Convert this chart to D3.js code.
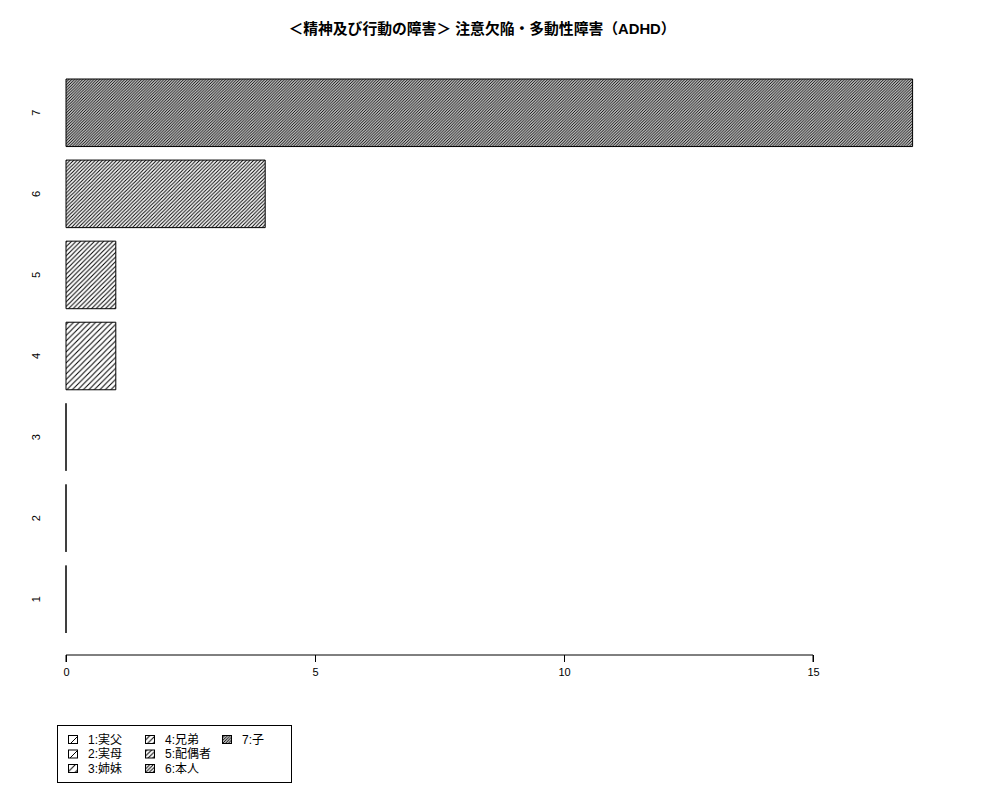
<!DOCTYPE html>
<html><head><meta charset="utf-8">
<script src="https://cdn.jsdelivr.net/npm/d3@7"></script>
<style>body{margin:0;background:#fff;} svg{display:block;}</style>
</head><body>
<script>
const categories = ["1","2","3","4","5","6","7"];
const values = [0,0,0,1,1,4,17];
const legendLabels = ["1:実父","2:実母","3:姉妹","4:兄弟","5:配偶者","6:本人","7:子"];
const xTicks = [0,5,10,15];
const hatchSpacing = [11,9,7.5,5.5,4.6,3.6,2.8];
const title = "＜精神及び行動の障害＞ 注意欠陥・多動性障害（ADHD）";

const W=1000,H=800;
const svg=d3.select("body").append("svg").attr("width",W).attr("height",H);
const font="'Liberation Sans','Noto Sans CJK JP',sans-serif";
const defs=svg.append("defs");
hatchSpacing.forEach((d,i)=>{
  const p=defs.append("pattern").attr("id","h"+i).attr("patternUnits","userSpaceOnUse")
    .attr("width",d).attr("height",d);
  p.append("path").attr("d",`M0,${d}L${d},0M-1,1L1,-1M${d-1},${d+1}L${d+1},${d-1}`)
    .attr("stroke","#000").attr("stroke-width",1).attr("fill","none");
});

const x=d3.scaleLinear().domain([0,15]).range([66,813]);
const y=d3.scaleBand().domain(categories.slice().reverse()).range([79,633]).paddingInner(1/6).paddingOuter(0);

svg.append("text").attr("x",482).attr("y",34).attr("text-anchor","middle")
  .attr("font-family",font).attr("font-weight","bold").attr("font-size",14.8).text(title);

const g=svg.append("g");
categories.forEach((c,i)=>{
  const x0=x(0),x1=x(values[i]),y0=y(c),y1=y(c)+y.bandwidth();
  g.append("path").attr("d",`M${x0},${y0}H${x1}V${y1}H${x0}Z`)
    .attr("fill",`url(#h${i})`).attr("stroke","#000").attr("stroke-width",1);
  g.append("text").attr("transform",`translate(40,${y0+y.bandwidth()/2}) rotate(-90)`)
    .attr("text-anchor","middle").attr("font-family",font).attr("font-size",11).text(c);
});

const ax=svg.append("g").attr("transform","translate(0,655)")
  .call(d3.axisBottom(x).tickValues(xTicks).tickSize(7).tickPadding(6).tickFormat(d3.format("d")));
ax.selectAll("path,line").attr("stroke","#000");
ax.select(".domain").attr("d",`M${x(0)},7V0H${x(15)}V7`);
ax.selectAll("text").attr("font-family",font).attr("font-size",11).attr("fill","#000");

const lg=svg.append("g");
lg.append("rect").attr("x",57.5).attr("y",725.5).attr("width",234).attr("height",57)
  .attr("fill","none").attr("stroke","#000");
legendLabels.forEach((l,i)=>{
  const col=Math.floor(i/3),row=i%3;
  const bx=68+col*77,by=735+row*14.5;
  lg.append("rect").attr("x",bx+0.5).attr("y",by+0.5).attr("width",9).attr("height",8)
    .attr("fill",`url(#h${i})`).attr("stroke","#000").attr("stroke-width",1);
  lg.append("text").attr("x",bx+20).attr("y",by+8.5).attr("font-family",font).attr("font-size",12).text(l);
});
</script>
</body></html>
